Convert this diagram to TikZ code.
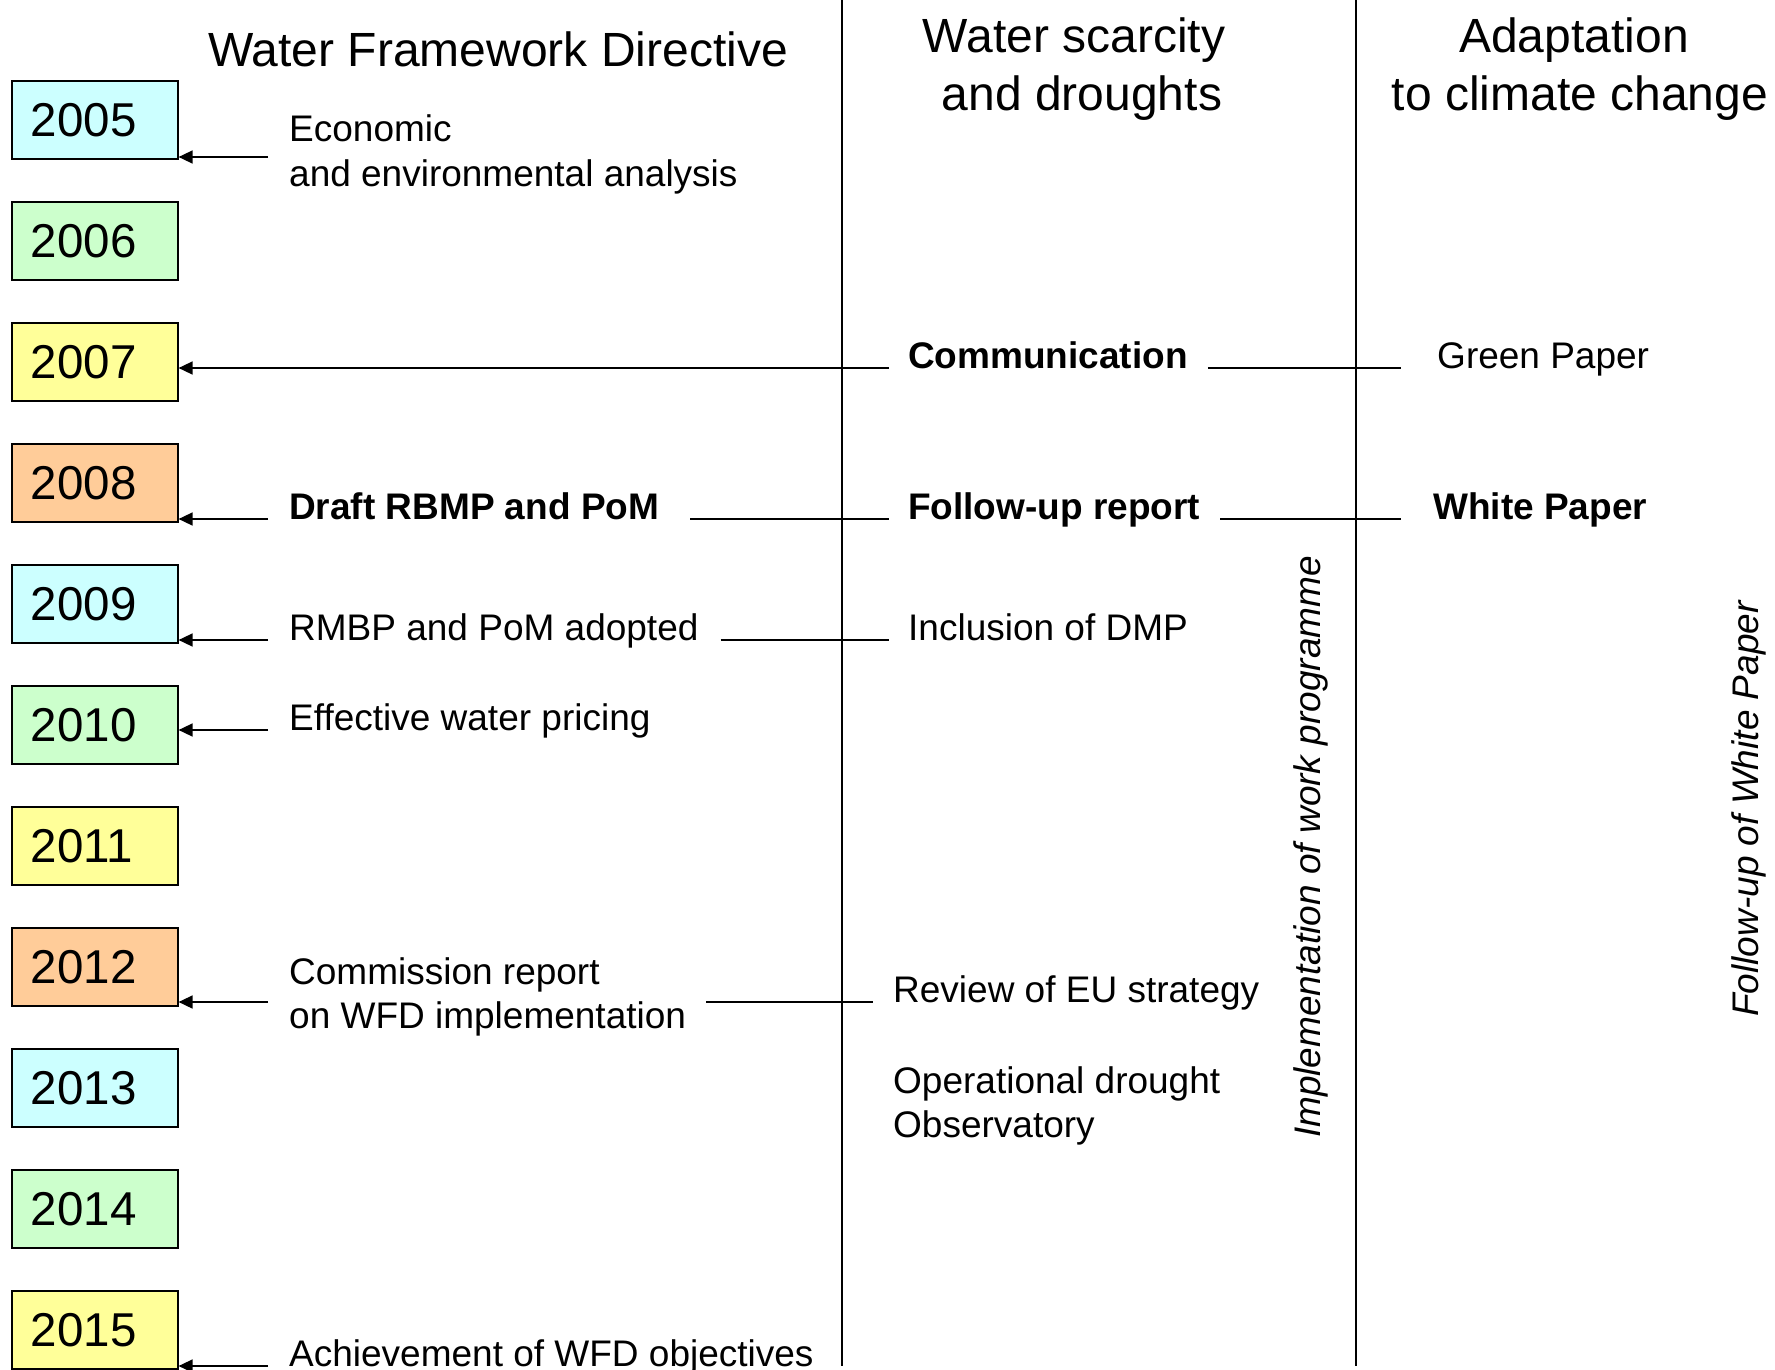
\documentclass[tikz,border=0pt]{standalone}
\usepackage{fontspec}
\setmainfont{Liberation Sans}
\usetikzlibrary{arrows.meta}
\definecolor{ycyan}{HTML}{CCFFFF}
\definecolor{ygreen}{HTML}{CCFFCC}
\definecolor{yyellow}{HTML}{FFFF99}
\definecolor{yorange}{HTML}{FFCC99}
\begin{document}
\begin{tikzpicture}[x=1pt,y=-1pt,
  yearbox/.style={draw, line width=1.6pt, anchor=west, minimum height=78pt,
    text width=128pt, inner xsep=19pt, inner ysep=0pt, align=left,
    font=\fontsize{47.5}{56}\selectfont},
  body/.style={font=\fontsize{37}{44}\selectfont, anchor=base west, inner sep=0pt},
  bodyb/.style={body, font=\fontsize{37}{44}\selectfont\bfseries},
  head/.style={font=\fontsize{48}{58}\selectfont, anchor=base, inner sep=0pt},
  rot/.style={font=\fontsize{37}{44}\selectfont\itshape, rotate=90, inner sep=0pt},
  conn/.style={line width=1.6pt},
  arr/.style={conn, -{Triangle[length=14pt,width=13pt]}}
]
\useasboundingbox (0,0) rectangle (1775,1370);
\fill[white] (0,0) rectangle (1775,1370);

% column dividers
\coordinate (d1t) at (842,0);  \coordinate (d1b) at (842,1366);
\coordinate (d2t) at (1356,0); \coordinate (d2b) at (1356,1366);
\draw[conn] (d1t) -- (d1b);
\draw[conn] (d2t) -- (d2b);

% year boxes
\foreach \yr/\col [count=\i from 0] in {2005/ycyan,2006/ygreen,2007/yyellow,2008/yorange,
    2009/ycyan,2010/ygreen,2011/yyellow,2012/yorange,2013/ycyan,2014/ygreen,2015/yyellow}
  \node[yearbox, fill=\col] (y\yr) at (11,{120+121*\i}) {\yr};

% headers
\node[head] (h1)  at (498,67)  {Water Framework Directive};
\node[head] (h2a) at (1074,53) {Water scarcity};
\node[head] (h2b) at (1082,111) {and droughts};
\node[head] (h3a) at (1574,53) {Adaptation};
\node[head] (h3b) at (1580,111) {to climate change};

% 2005
\node[body] (econ1) at (289,142) {Economic};
\node[body] (econ2) at (289,186) {and environmental analysis};
\coordinate (a05) at (268,157);
\draw[arr] (a05) -- (y2005.east |- a05);

% 2007
\node[bodyb] (comm)  at (908,368)  {Communication};
\node[body]  (green) at (1437,368) {Green Paper};
\draw[arr] ([xshift=-19pt]comm.base west) -- (y2007.east |- comm.base);
\draw[conn] ([xshift=20pt]comm.base east) -- ([xshift=-36pt]green.base west);

% 2008
\node[bodyb] (draft)  at (289,519)  {Draft RBMP and PoM};
\node[bodyb] (follow) at (908,519)  {Follow-up report};
\node[bodyb] (white)  at (1433,519) {White Paper};
\draw[arr] ([xshift=-21pt]draft.base west) -- (y2008.east |- draft.base);
\draw[conn] ([xshift=31pt]draft.base east) -- ([xshift=-19pt]follow.base west);
\draw[conn] ([xshift=20pt]follow.base east) -- ([xshift=-32pt]white.base west);

% 2009
\node[body] (rmbp) at (289,640) {RMBP and PoM adopted};
\node[body] (dmp)  at (908,640) {Inclusion of DMP};
\draw[arr] ([xshift=-21pt]rmbp.base west) -- (y2009.east |- rmbp.base);
\draw[conn] ([xshift=22pt]rmbp.base east) -- ([xshift=-19pt]dmp.base west);

% 2010
\node[body] (price) at (289,730) {Effective water pricing};
\draw[arr] ([xshift=-21pt]price.base west) -- (y2010.east |- price.base);

% 2012
\node[body] (cr1) at (289,984)  {Commission report};
\node[body] (cr2) at (289,1028) {on WFD implementation};
\node[body] (review) at (893,1002) {Review of EU strategy};
\coordinate (a12) at (268,1002);
\draw[arr] (a12) -- (y2012.east |- a12);
\draw[conn] ([xshift=20pt]cr2.east |- review.base) -- ([xshift=-20pt]review.base west);
\node[body] (obs1) at (893,1093) {Operational drought};
\node[body] (obs2) at (893,1137) {Observatory};

% 2015
\node[body] (achieve) at (289,1366) {Achievement of WFD objectives};
\draw[arr] ([xshift=-21pt]achieve.base west) -- (y2015.east |- achieve.base);

% rotated labels
\node[rot] (impl) at (1311,847) {Implementation of work programme};
\node[rot] (fwp)  at (1749,809) {Follow-up of White Paper};
\end{tikzpicture}
\end{document}
